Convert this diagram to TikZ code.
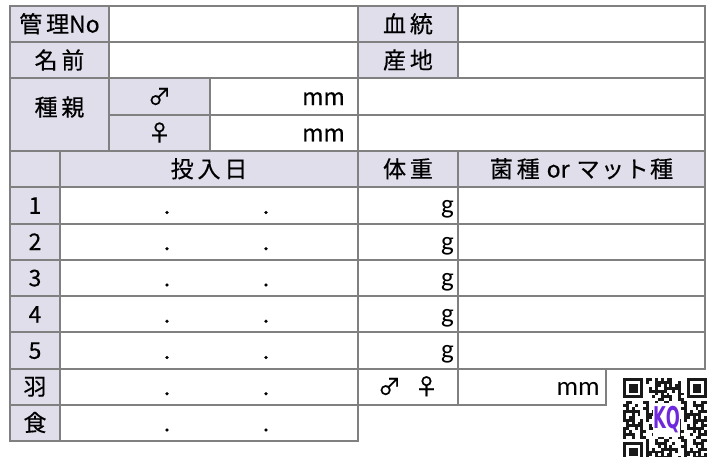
\documentclass[tikz,border=0pt]{standalone}
\usepackage{fontspec}
\usepackage{graphicx}
\newfontfamily\jp[FakeBold=0.4]{Noto Sans CJK JP}
\newfontfamily\calfont{Carlito}
\newfontfamily\logofont{DejaVu Sans}
\usetikzlibrary{calc,positioning}
\definecolor{gridgray}{RGB}{128,128,128}
\definecolor{headfill}{RGB}{225,222,236}
\definecolor{qrblack}{RGB}{25,25,25}
\definecolor{logopurple}{RGB}{112,40,220}

\begin{document}
\begin{tikzpicture}[x=1pt, y=-1pt,
	cell/.style = {draw=gridgray, line width=2pt, anchor=north west, inner sep=0pt, minimum height=36.25pt, text height=19pt, text depth=2.2pt, font=\jp\fontsize{23}{26}\selectfont},
	head/.style = {cell, fill=headfill},
	blank/.style = {cell, fill=white},
	dot/.style = {anchor=base, inner sep=0pt, font=\jp\fontsize{23}{26}\selectfont},
	unitjp/.style = {anchor=base east, inner sep=0pt, font=\jp\fontsize{23}{26}\selectfont},
	unit/.style = {anchor=base east, inner sep=0pt, font=\calfont\fontsize{27}{30}\selectfont}]
		\useasboundingbox (0,0) rectangle (717,457);
		% top block
		\node[head, minimum width=99pt] (kanri) at (9,5) {管\,理No};
		\node[blank, minimum width=249pt] (kanriV) at (108,5) {};
		\node[head, minimum width=100pt] (ketto) at (357,5) {血\,統};
		\node[blank, minimum width=247pt] (kettoV) at (457,5) {};
		\node[head, minimum width=99pt] (namae) at (9,41.25) {名\,前};
		\node[blank, minimum width=249pt] (namaeV) at (108,41.25) {};
		\node[head, minimum width=100pt] (sanchi) at (357,41.25) {産\,地};
		\node[blank, minimum width=247pt] (sanchiV) at (457,41.25) {};
		\node[head, minimum width=99pt, minimum height=72.5pt, text depth=17pt] (shuoya) at (9,77.5) {種\,親};
		\node[head, minimum width=101pt] (osu) at (108,77.5) {♂};
		\node[blank, minimum width=148pt] (osuV) at (209,77.5) {};
		\node[blank, minimum width=347pt] (osuR) at (357,77.5) {};
		\node[head, minimum width=101pt] (mesu) at (108,113.75) {♀};
		\node[blank, minimum width=148pt] (mesuV) at (209,113.75) {};
		\node[blank, minimum width=347pt] (mesuR) at (357,113.75) {};
		\node[unitjp] (osuMM) at ([shift={(-14pt,-8.4pt)}]osuV.east) {mm};
		\node[unitjp] (mesuMM) at ([shift={(-14pt,-8.4pt)}]mesuV.east) {mm};
		% header row
		\node[head, minimum width=50pt] (hdNo) at (9,150) {};
		\node[head, minimum width=298pt] (hdDate) at (59,150) {投\,入\,日};
		\node[head, minimum width=100pt] (hdWeight) at (357,150) {体\,重};
		\node[head, minimum width=247pt] (hdKind) at (457,150) {菌\,種\hspace{7pt}or\hspace{7pt}マ\kern1.5ptッ\kern1.5ptト\kern1.5pt種};
		% rows 1-5
		\node[head, minimum width=50pt] (no1) at (9,186.25) {1};
		\node[blank, minimum width=298pt] (date1) at (59,186.25) {};
		\node[blank, minimum width=100pt] (w1) at (357,186.25) {};
		\node[blank, minimum width=247pt] (kind1) at (457,186.25) {};
		\node[dot] (d1a) at ([shift={(108pt,-8.4pt)}]date1.west) {.};
		\node[dot] (d1b) at ([shift={(207pt,-8.4pt)}]date1.west) {.};
		\node[unit] (g1) at ([shift={(-5pt,-8.4pt)}]w1.east) {g};
		\node[head, minimum width=50pt] (no2) at (9,222.5) {2};
		\node[blank, minimum width=298pt] (date2) at (59,222.5) {};
		\node[blank, minimum width=100pt] (w2) at (357,222.5) {};
		\node[blank, minimum width=247pt] (kind2) at (457,222.5) {};
		\node[dot] (d2a) at ([shift={(108pt,-8.4pt)}]date2.west) {.};
		\node[dot] (d2b) at ([shift={(207pt,-8.4pt)}]date2.west) {.};
		\node[unit] (g2) at ([shift={(-5pt,-8.4pt)}]w2.east) {g};
		\node[head, minimum width=50pt] (no3) at (9,258.75) {3};
		\node[blank, minimum width=298pt] (date3) at (59,258.75) {};
		\node[blank, minimum width=100pt] (w3) at (357,258.75) {};
		\node[blank, minimum width=247pt] (kind3) at (457,258.75) {};
		\node[dot] (d3a) at ([shift={(108pt,-8.4pt)}]date3.west) {.};
		\node[dot] (d3b) at ([shift={(207pt,-8.4pt)}]date3.west) {.};
		\node[unit] (g3) at ([shift={(-5pt,-8.4pt)}]w3.east) {g};
		\node[head, minimum width=50pt] (no4) at (9,295) {4};
		\node[blank, minimum width=298pt] (date4) at (59,295) {};
		\node[blank, minimum width=100pt] (w4) at (357,295) {};
		\node[blank, minimum width=247pt] (kind4) at (457,295) {};
		\node[dot] (d4a) at ([shift={(108pt,-8.4pt)}]date4.west) {.};
		\node[dot] (d4b) at ([shift={(207pt,-8.4pt)}]date4.west) {.};
		\node[unit] (g4) at ([shift={(-5pt,-8.4pt)}]w4.east) {g};
		\node[head, minimum width=50pt] (no5) at (9,331.25) {5};
		\node[blank, minimum width=298pt] (date5) at (59,331.25) {};
		\node[blank, minimum width=100pt] (w5) at (357,331.25) {};
		\node[blank, minimum width=247pt] (kind5) at (457,331.25) {};
		\node[dot] (d5a) at ([shift={(108pt,-8.4pt)}]date5.west) {.};
		\node[dot] (d5b) at ([shift={(207pt,-8.4pt)}]date5.west) {.};
		\node[unit] (g5) at ([shift={(-5pt,-8.4pt)}]w5.east) {g};
		% wing and food rows
		\node[head, minimum width=50pt] (hane) at (9,367.5) {羽};
		\node[blank, minimum width=298pt] (haneDate) at (59,367.5) {};
		\node[blank, minimum width=100pt] (haneSex) at (357,367.5) {♂\hspace{14pt}♀};
		\node[blank, minimum width=148pt] (haneLen) at (457,367.5) {};
		\node[dot] (dHa) at ([shift={(108pt,-8.4pt)}]haneDate.west) {.};
		\node[dot] (dHb) at ([shift={(207pt,-8.4pt)}]haneDate.west) {.};
		\node[unit] (haneMM) at ([shift={(-7pt,-8.4pt)}]haneLen.east) {mm};
		\node[head, minimum width=50pt] (shoku) at (9,403.75) {食};
		\node[blank, minimum width=298pt] (shokuDate) at (59,403.75) {};
		\node[dot] (dSa) at ([shift={(108pt,-8.4pt)}]shokuDate.west) {.};
		\node[dot] (dSb) at ([shift={(207pt,-8.4pt)}]shokuDate.west) {.};
		% qr code
		\begin{scope}[shift={(623,378)}, x=2.9pt, y=-2.9pt]
			\clip (0,0) rectangle (29,27.3);
			\foreach \i in {0,...,28} {
				\foreach \j in {0,...,28} {
					\pgfmathtruncatemacro\qrbit{mod(\i*\i*7+\j*\j*3+\i*\j*5+\j*11+\i,13)}
					\ifnum\qrbit<6 \fill[qrblack] (\i,\j) rectangle ++(1,1); \fi
				}
			}
			\fill[white] (0,0) rectangle (8,8);
			\fill[white] (21,0) rectangle (29,8);
			\fill[white] (0,21) rectangle (8,29);
			\fill[qrblack] (0,0) rectangle (7,7);
			\fill[white] (1,1) rectangle (6,6);
			\fill[qrblack] (2,2) rectangle (5,5);
			\fill[qrblack] (22,0) rectangle (29,7);
			\fill[white] (23,1) rectangle (28,6);
			\fill[qrblack] (24,2) rectangle (27,5);
			\fill[qrblack] (0,22) rectangle (7,29);
			\fill[white] (1,23) rectangle (6,28);
			\fill[qrblack] (2,24) rectangle (5,27);
			\fill[white] (10.5,8.5) rectangle (19.5,20.5);
			\node[inner sep=0pt, text=logopurple, font=\logofont\bfseries\fontsize{30}{32}\selectfont] (logo) at (15,14.5) {\scalebox{0.55}[1]{KQ}};
		\end{scope}
	\end{tikzpicture}
\end{document}
